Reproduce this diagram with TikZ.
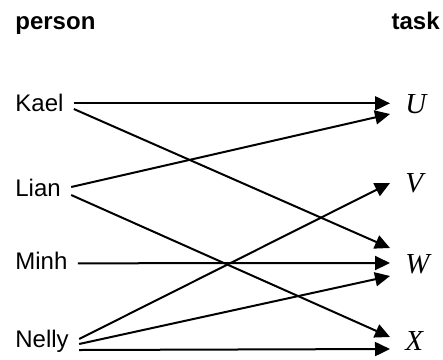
\documentclass[tikz,border=0pt]{standalone}
\usepackage{fontspec}
\setmainfont{Liberation Sans}
\newfontfamily\letterfont{Liberation Serif}
\usepackage{tikz}
\usetikzlibrary{arrows.meta}

\begin{document}
\begin{tikzpicture}[x=0.5pt,y=-0.5pt,
		who/.style={anchor=base west,inner xsep=5pt,inner ysep=0pt,font=\fontsize{12}{14}\selectfont},
		job/.style={anchor=base west,inner xsep=7.5pt,inner ysep=0pt,font=\fontsize{14.5}{16}\selectfont\letterfont\itshape},
		head/.style={inner sep=0pt,font=\fontsize{12}{14}\selectfont\bfseries},
		link/.style={line width=1pt,-{Triangle[length=7.5pt,width=7pt]}}]
			
			\useasboundingbox (0,0) rectangle (443,359);
			
			\node[head,anchor=base west] (person) at (15,29) {person};
			\node[head,anchor=base east] (task) at (440,29) {task};
			
			\node[who] (kael) at (5,111) {Kael};
			\node[who] (lian) at (5,196.7) {Lian};
			\node[who] (minh) at (5,269) {Minh};
			\node[who] (nelly) at (5,347.5) {Nelly};
			
			\node[job] (u) at (390,113) {U};
			\node[job] (v) at (390,192) {V};
			\node[job] (w) at (390,273) {W};
			\node[job] (x) at (390,350) {X};
			
			\draw[link] ([yshift=3.85pt]kael.base east) -- ([yshift=4.85pt]u.base west);
			\draw[link] ([yshift=1pt]kael.base east) -- ([yshift=12.5pt]w.base west);
			\draw[link] ([yshift=4.85pt]lian.base east) -- ([yshift=-0.5pt]u.base west);
			\draw[link] ([yshift=0.85pt]lian.base east) -- ([yshift=6.5pt]x.base west);
			\draw[link] ([yshift=2.85pt]minh.base east) -- ([yshift=5pt]w.base west);
			\draw[link] ([yshift=4.25pt]nelly.base east) -- ([yshift=4.5pt]v.base west);
			\draw[link] ([yshift=1.75pt]nelly.base east) -- ([yshift=-1.5pt]w.base west);
			\draw[link] ([yshift=-1.25pt]nelly.base east) -- ([yshift=0.5pt]x.base west);
			
		\end{tikzpicture}
\end{document}
